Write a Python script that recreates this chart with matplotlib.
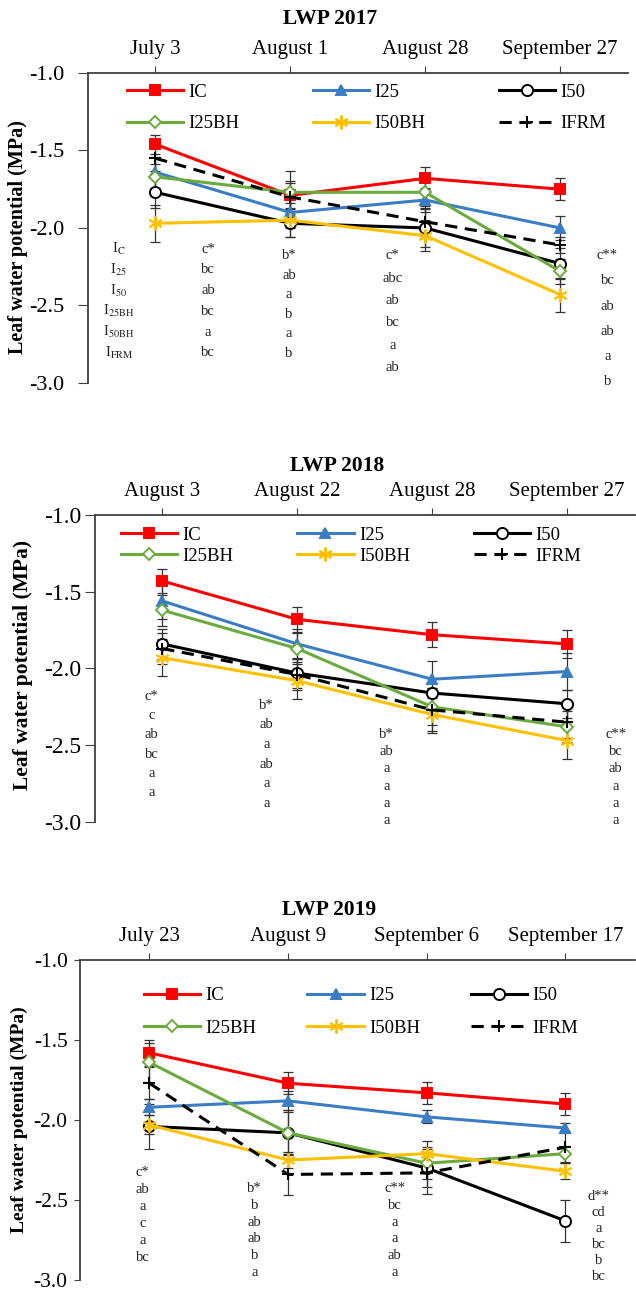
import matplotlib
matplotlib.use("Agg")
import matplotlib.pyplot as plt

plt.rcParams["font.family"] = ["Liberation Serif", "DejaVu Serif"]
plt.rcParams["mathtext.fontset"] = "stix"

treatments = ["IC", "I25", "I50", "I25BH", "I50BH", "IFRM"]
row_labels = [r"I$_{\mathrm{C}}$", r"I$_{25}$", r"I$_{50}$",
              r"I$_{\mathrm{25BH}}$", r"I$_{\mathrm{50BH}}$", r"I$_{\mathrm{FRM}}$"]

dates_2017 = ["July 3", "August 1", "August 28", "September 27"]
dates_2018 = ["August 3", "August 22", "August 28", "September 27"]
dates_2019 = ["July 23", "August 9", "September 6", "September 17"]

# mean leaf water potential (MPa), one list per treatment
lwp_2017 = {
    "IC": [-1.46, -1.79, -1.68, -1.75],
    "I25": [-1.64, -1.90, -1.82, -2.00],
    "I50": [-1.77, -1.97, -2.00, -2.23],
    "I25BH": [-1.67, -1.77, -1.77, -2.28],
    "I50BH": [-1.97, -1.95, -2.05, -2.43],
    "IFRM": [-1.55, -1.80, -1.96, -2.11],
}
err_2017 = {
    "IC": [0.06, 0.08, 0.07, 0.07],
    "I25": [0.10, 0.10, 0.08, 0.08],
    "I50": [0.10, 0.09, 0.12, 0.10],
    "I25BH": [0.08, 0.14, 0.09, 0.08],
    "I50BH": [0.12, 0.11, 0.10, 0.11],
    "IFRM": [0.08, 0.10, 0.09, 0.05],
}
lwp_2018 = {
    "IC": [-1.43, -1.68, -1.78, -1.84],
    "I25": [-1.56, -1.84, -2.07, -2.02],
    "I50": [-1.84, -2.03, -2.16, -2.23],
    "I25BH": [-1.62, -1.87, -2.25, -2.38],
    "I50BH": [-1.93, -2.08, -2.30, -2.47],
    "IFRM": [-1.87, -2.04, -2.27, -2.35],
}
err_2018 = {
    "IC": [0.08, 0.08, 0.08, 0.09],
    "I25": [0.12, 0.10, 0.12, 0.12],
    "I50": [0.10, 0.10, 0.10, 0.09],
    "I25BH": [0.10, 0.10, 0.12, 0.10],
    "I50BH": [0.12, 0.12, 0.12, 0.12],
    "IFRM": [0.10, 0.10, 0.14, 0.10],
}
lwp_2019 = {
    "IC": [-1.58, -1.77, -1.83, -1.90],
    "I25": [-1.92, -1.88, -1.98, -2.05],
    "I50": [-2.04, -2.08, -2.30, -2.63],
    "I25BH": [-1.64, -2.08, -2.27, -2.21],
    "I50BH": [-2.03, -2.25, -2.21, -2.32],
    "IFRM": [-1.77, -2.34, -2.33, -2.17],
}
err_2019 = {
    "IC": [0.08, 0.07, 0.07, 0.07],
    "I25": [0.05, 0.06, 0.04, 0.03],
    "I50": [0.14, 0.13, 0.12, 0.13],
    "I25BH": [0.12, 0.14, 0.10, 0.05],
    "I50BH": [0.06, 0.05, 0.08, 0.05],
    "IFRM": [0.10, 0.13, 0.13, 0.10],
}

# significance letters (IC, I25, I50, I25BH, I50BH, IFRM) per date
letters_2017 = [["c*", "bc", "ab", "bc", "a", "bc"],
                ["b*", "ab", "a", "b", "a", "b"],
                ["c*", "abc", "ab", "bc", "a", "ab"],
                ["c**", "bc", "ab", "ab", "a", "b"]]
letters_2018 = [["c*", "c", "ab", "bc", "a", "a"],
                ["b*", "ab", "a", "ab", "a", "a"],
                ["b*", "ab", "a", "a", "a", "a"],
                ["c**", "bc", "ab", "a", "a", "a"]]
letters_2019 = [["c*", "ab", "a", "c", "a", "bc"],
                ["b*", "b", "ab", "ab", "b", "a"],
                ["c**", "bc", "a", "a", "ab", "a"],
                ["d**", "cd", "a", "bc", "b", "bc"]]

styles = {
    "IC": dict(color="#FF0000", marker="s", ms=7, mfc="#FF0000", ls="-"),
    "I25": dict(color="#3B7DC4", marker="^", ms=7, mfc="#3B7DC4", ls="-"),
    "I50": dict(color="black", marker="o", ms=8, mfc="white", ls="-"),
    "I25BH": dict(color="#6AAB3F", marker="D", ms=6.5, mfc="white", ls="-"),
    "I50BH": dict(color="#FFC000", marker=(6, 2, 0), ms=10, mfc="#FFC000", ls="-"),
    "IFRM": dict(color="black", marker="+", ms=9, mfc="black", ls=(0, (4, 2.5))),
}


def draw_panel(ax, title, dates, lwp, err, letters, letter_pos, lay,
               show_rows=False):
    x = list(range(len(dates)))
    for t in treatments:
        ax.errorbar(x, lwp[t], yerr=err[t], fmt="none", ecolor="#333333",
                    elinewidth=0.9, capsize=3.5, capthick=0.9, zorder=2)
    lines = {}
    for t in treatments:
        st = styles[t]
        lines[t], = ax.plot(x, lwp[t], color=st["color"], marker=st["marker"],
                            markersize=st["ms"], markerfacecolor=st["mfc"],
                            markeredgecolor=st["color"], markeredgewidth=1.4,
                            linestyle=st["ls"], linewidth=2.2, label=t,
                            zorder=3)

    ax.set_xlim(-0.5, 3.5)
    ax.set_ylim(-3.0, -1.0)
    ax.set_yticks([-3.0, -2.5, -2.0, -1.5, -1.0])
    ax.set_yticklabels(["-3.0", "-2.5", "-2.0", "-1.5", "-1.0"])
    ax.set_xticks(x)
    ax.set_xticklabels(dates)
    ax.xaxis.tick_top()
    ax.tick_params(axis="x", which="both", direction="out", length=5,
                   labelsize=15, pad=5, color="#404040")
    ax.tick_params(axis="y", direction="out", length=lay["ytick_len"],
                   labelsize=lay["ytick_size"], color="#404040",
                   pad=lay["ytick_pad"])
    for s in ["right", "bottom"]:
        ax.spines[s].set_visible(False)
    for s in ["top", "left"]:
        ax.spines[s].set_color("#404040")
        ax.spines[s].set_linewidth(1.3)
    ax.set_ylabel("Leaf water potential (MPa)", fontsize=lay["ylab_size"],
                  fontweight="bold")
    ax.yaxis.set_label_coords(*lay["ylab_xy"])
    ax.text(0.448, lay["title_y"], title, transform=ax.transAxes,
            ha="center", va="center", fontsize=15.5, fontweight="bold")

    for col, (lx, ly, step) in zip(letters, letter_pos):
        for i, s in enumerate(col):
            ax.text(lx, ly - i * step, s, ha="center", va="center",
                    fontsize=10.5, color="#222222", clip_on=False)
    if show_rows:
        for i, s in enumerate(row_labels):
            ax.text(-0.27, -2.136 - i * 0.134, s, ha="center", va="center",
                    fontsize=10.5, color="#222222")

    # legend fills row by row: IC, I25, I50 / I25BH, I50BH, IFRM
    order = ["IC", "I25BH", "I25", "I50BH", "I50", "IFRM"]
    ax.legend([lines[t] for t in order], order, loc="upper left",
              bbox_to_anchor=lay["leg_anchor"], ncol=3, frameon=False,
              fontsize=13.5, handlelength=3.0, handletextpad=0.3,
              columnspacing=lay["col_spacing"],
              labelspacing=lay["leg_spacing"], borderpad=0, borderaxespad=0)


fig = plt.figure(figsize=(6.36, 12.93), dpi=100)
ax1 = fig.add_axes([0.138, 0.7038, 0.849, 0.2398])
ax2 = fig.add_axes([0.149, 0.3643, 0.849, 0.2374])
ax3 = fig.add_axes([0.126, 0.0100, 0.872, 0.2475])

pos_2017 = [(0.39, -2.136, 0.134), (0.99, -2.18, 0.126),
            (1.76, -2.18, 0.144), (3.35, -2.18, 0.162)]
pos_2018 = [(-0.08, -2.18, 0.126), (0.77, -2.24, 0.128),
            (1.66, -2.43, 0.112), (3.36, -2.43, 0.112)]
pos_2019 = [(-0.05, -2.33, 0.106), (0.76, -2.43, 0.104),
            (1.77, -2.43, 0.104), (3.24, -2.48, 0.100)]

lay_2017 = dict(title_y=1.175, ylab_xy=(-0.111, 0.47), ylab_size=14.5,
                ytick_size=16, ytick_len=7, ytick_pad=10,
                leg_anchor=(0.072, 0.965), leg_spacing=0.75, col_spacing=3.9)
lay_2018 = dict(title_y=1.161, ylab_xy=(-0.115, 0.51), ylab_size=15.5,
                ytick_size=17, ytick_len=7, ytick_pad=3,
                leg_anchor=(0.048, 0.962), leg_spacing=0.2, col_spacing=3.4)
lay_2019 = dict(title_y=1.155, ylab_xy=(-0.094, 0.50), ylab_size=14,
                ytick_size=15.5, ytick_len=4, ytick_pad=5,
                leg_anchor=(0.115, 0.915), leg_spacing=0.8, col_spacing=2.7)

draw_panel(ax1, "LWP 2017", dates_2017, lwp_2017, err_2017, letters_2017,
           pos_2017, lay_2017, show_rows=True)
draw_panel(ax2, "LWP 2018", dates_2018, lwp_2018, err_2018, letters_2018,
           pos_2018, lay_2018)
draw_panel(ax3, "LWP 2019", dates_2019, lwp_2019, err_2019, letters_2019,
           pos_2019, lay_2019)

fig.savefig("out.png", dpi=100)
